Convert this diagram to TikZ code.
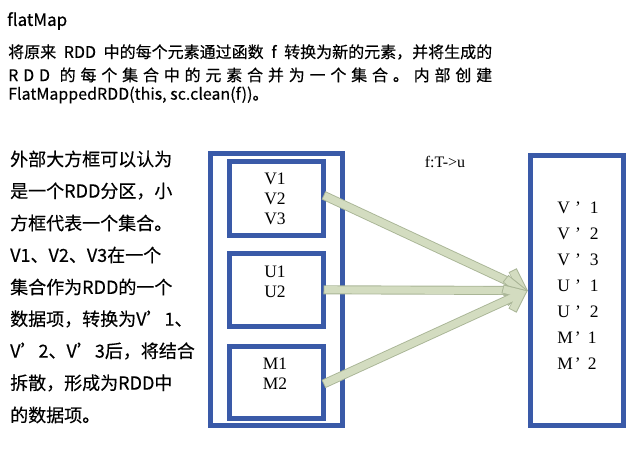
\documentclass[tikz,border=0pt]{standalone}
\usepackage{fontspec}
\setmainfont{Liberation Serif}
\newfontfamily\cjk{Noto Sans CJK SC}[FakeBold=0.35]
\usetikzlibrary{arrows.meta}
\definecolor{boxblue}{HTML}{3A5AA8}
\definecolor{arrfill}{HTML}{D3DCC0}
\definecolor{arredge}{HTML}{A9B596}
\begin{document}
\begin{tikzpicture}[x=1pt,y=-1pt,
  box/.style={draw=boxblue, line width=5pt, inner sep=0pt, outer sep=0pt},
  serif/.style={font=\fontsize{17.5}{20}\selectfont, align=center, inner sep=0pt},
  rserif/.style={font=\fontsize{17.5}{26}\selectfont, align=left, inner sep=0pt},
  cjktext/.style={font=\cjk\fontsize{18}{20}\selectfont, anchor=west, inner sep=0pt},
  toptext/.style={font=\cjk\fontsize{16}{20}\selectfont, anchor=west, inner sep=0pt},
  fatedge/.style={line width=9pt, draw=arredge, line join=miter, -{Straight Barb[length=15pt,width=24pt,line join=miter]}},
  fatfill/.style={line width=7.2pt, draw=arrfill, line join=miter, shorten >=1.6pt, shorten <=0.9pt, -{Straight Barb[length=14.2pt,width=22.6pt,line join=miter]}}]
\useasboundingbox (0,0) rectangle (644,449);

% header
\node[font=\cjk\fontsize{17}{20}\selectfont, anchor=west, inner sep=0pt] (title) at (7,21) {flatMap};
\node[toptext] (d1) at (8,52) {\makebox[484pt][s]{将原来 RDD 中的每个元素通过函数 f 转换为新的元素，并将生成的}};
\node[toptext] (d2) at (8,75) {\makebox[484pt][s]{R D D \ 的 每 个 集 合 中 的 元 素 合 并 为 一 个 集 合 。 内 部 创 建}};
\node[toptext] (d3) at (8,95) {FlatMappedRDD(this, sc.clean(f))。};

% left explanation
\node[cjktext] (e1) at (10,159) {外部大方框可以认为};
\node[cjktext] (e2) at (10,191) {是一个RDD分区，小};
\node[cjktext] (e3) at (10,223) {方框代表一个集合。};
\node[cjktext] (e4) at (10,255) {V1、V2、V3在一个};
\node[cjktext] (e5) at (10,287) {集合作为RDD的一个};
\node[cjktext] (e6) at (10,319) {数据项，转换为V’1、};
\node[cjktext] (e7) at (10,351) {V’2、V’3后，将结合};
\node[cjktext] (e8) at (10,383) {拆散，形成为RDD中};
\node[cjktext] (e9) at (10,415) {的数据项。};

% boxes
\node[box, minimum width=131.2pt, minimum height=272pt] (outer) at (276.4,289.4) {};
\node[box, minimum width=94pt, minimum height=73.5pt] (vb) at (276.5,198.3) {};
\node[box, minimum width=94pt, minimum height=72.5pt] (ub) at (276.5,289.8) {};
\node[box, minimum width=94pt, minimum height=72pt] (mb) at (276.5,382) {};
\node[box, minimum width=93.5pt, minimum height=270pt] (rb) at (577,290.5) {};

\node[serif] (vt) at (275,199) {V1\\V2\\V3};
\node[serif] (ut) at (275,282) {U1\\U2};
\node[serif] (mt) at (275,374) {M1\\M2};
\node[rserif] (rt) at (578,286) {V\hspace{5pt}’\hspace{9pt}1\\V\hspace{5pt}’\hspace{9pt}2\\V\hspace{5pt}’\hspace{9pt}3\\U\hspace{5pt}’\hspace{9pt}1\\U\hspace{5pt}’\hspace{9pt}2\\M\hspace{2pt}’\hspace{7pt}1\\M\hspace{2pt}’\hspace{7pt}2};
\node[font=\fontsize{16}{18}\selectfont, inner sep=0pt] (fl) at (445,162) {f:T->u};

% arrows
\coordinate (tip) at ([xshift=-2.5pt]rb.west);
\draw[fatedge] ([yshift=3pt]vb.east) -- (tip);
\draw[fatfill] ([yshift=3pt]vb.east) -- (tip);
\draw[fatedge] (ub.east) -- (tip);
\draw[fatfill] (ub.east) -- (tip);
\draw[fatedge] ([yshift=-2pt]mb.east) -- (tip);
\draw[fatfill] ([yshift=-2pt]mb.east) -- (tip);
\end{tikzpicture}
\end{document}
